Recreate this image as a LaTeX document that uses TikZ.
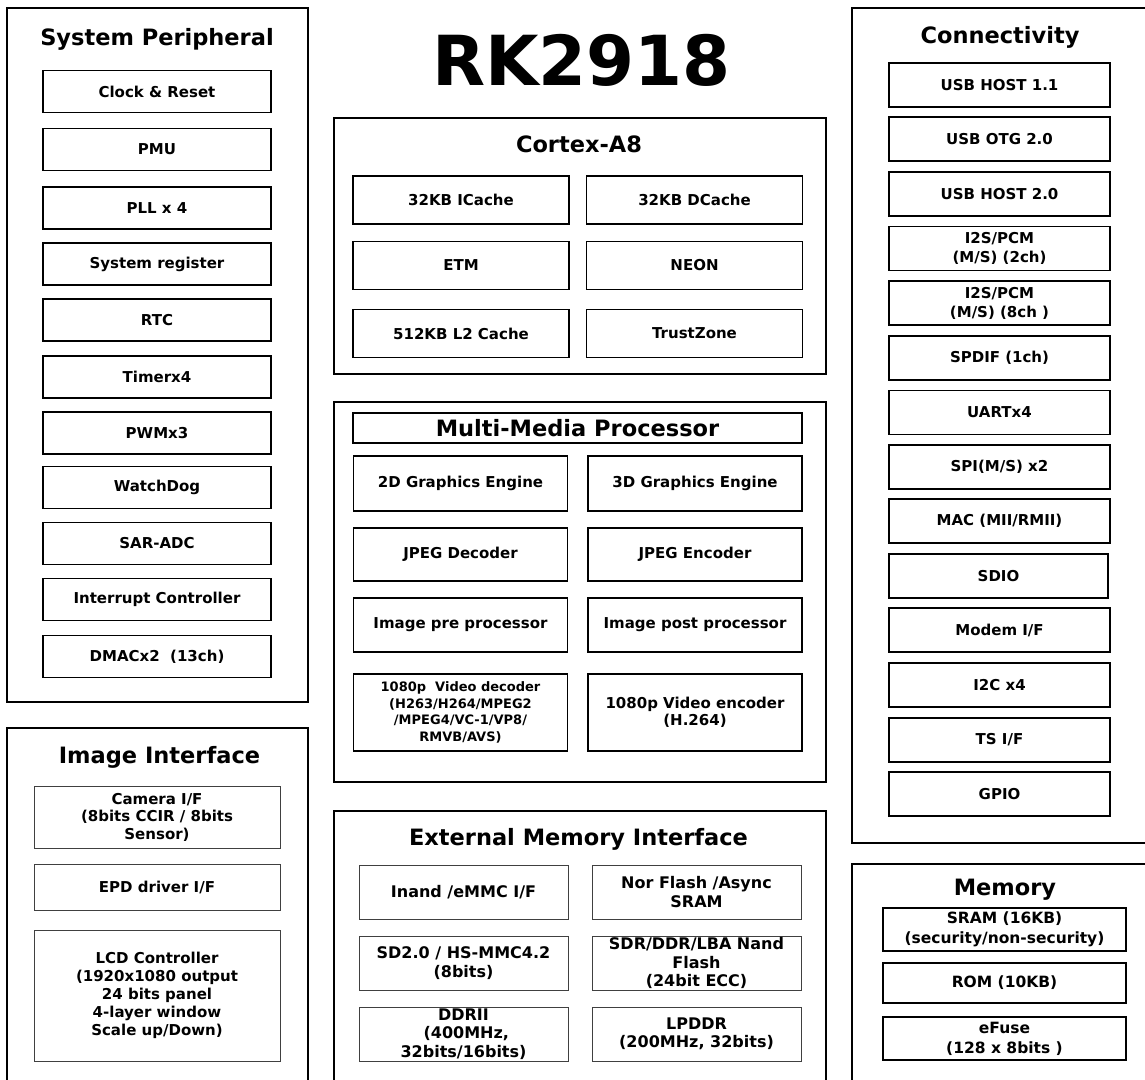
\documentclass[tikz,border=0pt]{standalone}
\usepackage{fontspec}
\setmainfont{DejaVu Sans}

\begin{document}
\begin{tikzpicture}[x=1pt,y=-1pt,
 frame/.style={rectangle,draw,line width=1.8pt,inner sep=0pt},
 ttl/.style={anchor=base,inner sep=0pt,font=\fontsize{22.5}{27}\selectfont\bfseries},
 blk/.style={rectangle,draw,line width=1.8pt,inner sep=2pt,align=center,minimum width=228,minimum height=42,font=\fontsize{15}{19}\selectfont\bfseries},
 lite/.style={blk,line width=1pt,draw=black!75,inner sep=0pt}]
 \useasboundingbox (0,0) rectangle (1145,1079);
 \clip (0,0) rectangle (1145,1079);

 % chip name
 \node[anchor=base,font=\fontsize{69}{80}\selectfont\bfseries] (chip) at (581.5,85) {RK2918};

 % system peripheral
 \node[frame,minimum width=301,minimum height=694] (sysp) at (157.5,355) {};
 \node[ttl] (syspt) at (157,45) {System Peripheral};
 \node[blk] (clk) at (157,91.5) {Clock \& Reset};
 \node[blk] (pmu) at (157,149.5) {PMU};
 \node[blk] (pll) at (157,208) {PLL x 4};
 \node[blk] (sreg) at (157,264) {System register};
 \node[blk] (rtc) at (157,320) {RTC};
 \node[blk] (tmr) at (157,377) {Timerx4};
 \node[blk] (pwm) at (157,433) {PWMx3};
 \node[blk] (wdg) at (157,487.5) {WatchDog};
 \node[blk] (adc) at (157,543.5) {SAR-ADC};
 \node[blk] (intc) at (157,599.5) {Interrupt Controller};
 \node[blk] (dmac) at (157,656.5) {DMACx2\ \ (13ch)};

 % image interface
 \node[frame,minimum width=301,minimum height=362] (imgif) at (157.5,909) {};
 \node[ttl] (imgift) at (159.5,763) {Image Interface};
 \node[lite,minimum width=246,minimum height=62,font=\fontsize{15}{17.5}\selectfont\bfseries] (cam) at (157,817) {Camera I/F\\(8bits CCIR / 8bits\\Sensor)};
 \node[lite,minimum width=246,minimum height=46] (epd) at (157,887) {EPD driver I/F};
 \node[lite,minimum width=246,minimum height=131,font=\fontsize{15}{18}\selectfont\bfseries] (lcd) at (157,995.5) {LCD Controller\\(1920x1080 output\\24 bits panel\\4-layer window\\Scale up/Down)};

 % cpu core
 \node[frame,minimum width=492,minimum height=256] (cpu) at (580,246) {};
 \node[ttl] (cput) at (579,152) {Cortex-A8};
 \node[blk,minimum width=216,minimum height=48] (icache) at (461,200) {32KB ICache};
 \node[blk,minimum width=216,minimum height=48] (dcache) at (694.5,200) {32KB DCache};
 \node[blk,minimum width=216,minimum height=48] (etm) at (461,265.5) {ETM};
 \node[blk,minimum width=216,minimum height=48] (neon) at (694.5,265.5) {NEON};
 \node[blk,minimum width=216,minimum height=48] (ltwo) at (461,333.5) {512KB L2 Cache};
 \node[blk,minimum width=216,minimum height=48] (tz) at (694.5,333.5) {TrustZone};

 % multi-media
 \node[frame,minimum width=492,minimum height=380] (mmp) at (580,592) {};
 \node[blk,inner sep=0pt,minimum width=449,minimum height=30,font=\fontsize{22.5}{27}\selectfont\bfseries] (mmpt) at (577.5,428) {Multi-Media Processor};
 \node[blk,minimum width=214,minimum height=55] (gtwo) at (460.5,483.5) {2D Graphics Engine};
 \node[blk,minimum width=214,minimum height=55] (gthree) at (695,483.5) {3D Graphics Engine};
 \node[blk,minimum width=214,minimum height=53] (jdec) at (460.5,554.5) {JPEG Decoder};
 \node[blk,minimum width=214,minimum height=53] (jenc) at (695,554.5) {JPEG Encoder};
 \node[blk,minimum width=214,minimum height=54] (ipre) at (460.5,625) {Image pre processor};
 \node[blk,minimum width=214,minimum height=54] (ipost) at (695,625) {Image post processor};
 \node[blk,minimum width=214,minimum height=77,font=\fontsize{13}{16.7}\selectfont\bfseries] (vdec) at (460.5,712.5) {1080p\ \ Video decoder\\(H263/H264/MPEG2\\/MPEG4/VC-1/VP8/\\RMVB/AVS)};
 \node[blk,minimum width=214,minimum height=77,font=\fontsize{15}{17.5}\selectfont\bfseries] (venc) at (695,712.5) {1080p Video encoder\\(H.264)};

 % external memory
 \node[frame,minimum width=492,minimum height=279] (emi) at (580,950.5) {};
 \node[ttl] (emit) at (578.5,845) {External Memory Interface};
 \tikzset{emb/.style={lite,minimum width=209,minimum height=54,font=\fontsize{16}{18.5}\selectfont\bfseries}}
 \node[emb] (inand) at (463.5,892) {Inand /eMMC I/F};
 \node[emb] (nor) at (696.5,892) {Nor Flash /Async\\SRAM};
 \node[emb] (sd) at (463.5,963) {SD2.0 / HS-MMC4.2\\(8bits)};
 \node[emb] (nand) at (696.5,963) {SDR/DDR/LBA Nand\\Flash\\(24bit ECC)};
 \node[emb] (ddrtwo) at (463.5,1034) {DDRII\\\ (400MHz,\\32bits/16bits)};
 \node[emb] (lpddr) at (696.5,1034) {LPDDR\\(200MHz, 32bits)};

 % connectivity
 \node[frame,minimum width=308,minimum height=835] (conn) at (1006,425.5) {};
 \node[ttl] (connt) at (1000,43) {Connectivity};
 \tikzset{cb/.style={blk,minimum width=221,minimum height=44}}
 \node[cb] (usbha) at (999.5,85) {USB HOST 1.1};
 \node[cb] (otg) at (999.5,139) {USB OTG 2.0};
 \node[cb] (usbhb) at (999.5,194) {USB HOST 2.0};
 \node[cb] (isa) at (999.5,248.5) {I2S/PCM\\(M/S) (2ch)};
 \node[cb] (isb) at (999.5,303) {I2S/PCM\\(M/S) (8ch )};
 \node[cb] (spdif) at (999.5,358) {SPDIF (1ch)};
 \node[cb] (uart) at (999.5,412.5) {UARTx4};
 \node[cb] (spi) at (999.5,467) {SPI(M/S) x2};
 \node[cb] (mac) at (999.5,521) {MAC (MII/RMII)};
 \node[cb,minimum width=219] (sdio) at (998.5,576) {SDIO};
 \node[cb] (modem) at (999.5,630) {Modem I/F};
 \node[cb] (iic) at (999.5,685) {I2C x4};
 \node[cb] (ts) at (999.5,740) {TS I/F};
 \node[cb] (gpio) at (999.5,794) {GPIO};

 % on-chip memory
 \node[frame,minimum width=308,minimum height=226] (mem) at (1006,977) {};
 \node[ttl] (memt) at (1005,895) {Memory};
 \node[blk,minimum width=243,minimum height=43,font=\fontsize{15.5}{20}\selectfont\bfseries] (sram) at (1004.5,929.5) {SRAM (16KB)\\(security/non-security)};
 \node[blk,minimum width=243,minimum height=40,font=\fontsize{15.5}{20}\selectfont\bfseries] (rom) at (1004.5,983) {ROM (10KB)};
 \node[blk,minimum width=243,minimum height=43,font=\fontsize{15.5}{20}\selectfont\bfseries] (efuse) at (1004.5,1038.5) {eFuse\\(128 x 8bits )};
\end{tikzpicture}
\end{document}
